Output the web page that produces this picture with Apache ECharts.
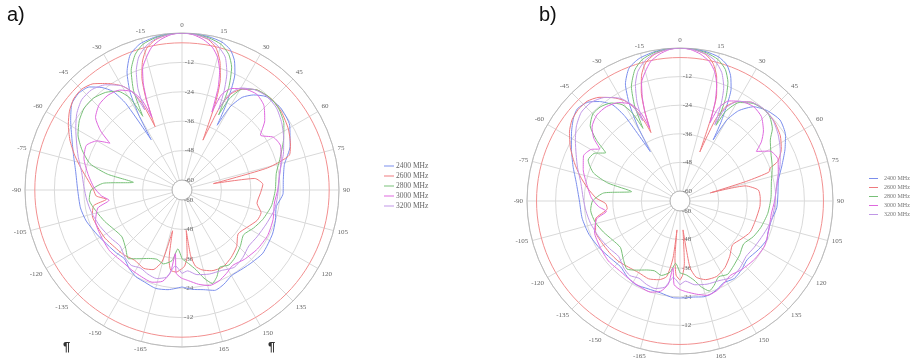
<!DOCTYPE html>
<html>
<head>
<meta charset="utf-8">
<script src="https://cdn.jsdelivr.net/npm/echarts@6/dist/echarts.min.js"></script>
<style>
  html, body { margin: 0; padding: 0; background: #fff; }
  #chart { width: 917px; height: 360px; }
</style>
</head>
<body>
<div id="chart"></div>
<script>
// legend names
const freqs = ["2400 MHz", "2600 MHz", "2800 MHz", "3000 MHz", "3200 MHz"];
const colors = ["#7b8eec", "#ef7a7e", "#78c078", "#de68de", "#c097e6"];
// red reference ring level (dB)
const refLevel = -4;

// plot a) : [angle deg, gain dB]
const blueA = [[-180,-24.5],[-172,-23],[-165,-22.5],[-158,-23.5],[-152,-24],[-146,-25.5],[-140,-27.5],[-134,-27],[-128,-26.5],[-118,-25],[-108,-23],[-100,-22],[-90,-21.5],[-80,-20],[-72,-17.5],[-65,-14.5],[-58,-10.5],[-52,-7],[-47,-6.3],[-42,-7.5],[-38,-11],[-35,-15],[-33,-22],[-31.5,-40],[-30,-29],[-28,-19],[-25,-11],[-21,-5],[-16,-2],[-10,-0.7],[-5,-0.2],[0,0],[5,-0.2],[10,-0.6],[15,-1.5],[19,-3.5],[22,-7],[24.5,-12],[26,-18],[27.5,-26],[28.5,-34],[30,-25],[33,-19],[37,-15.5],[42,-12.8],[50,-11.7],[59,-12.8],[68,-16.5],[76,-21],[84,-22.5],[92,-22.8],[100,-25],[108,-24],[116,-23],[128,-22.2],[136,-23],[142,-23.5],[150,-23.7],[156,-22],[162,-21],[168,-22.5],[174,-23.3],[180,-24.5]];
const redA = [[-180,-32],[-176,-30.5],[-172,-31],[-169.5,-35],[-167,-47],[-164.5,-34],[-160,-29.5],[-154,-28.5],[-146,-29.5],[-138,-28.5],[-130,-28],[-122,-27],[-114,-26.5],[-106,-26],[-100,-27.5],[-97,-33],[-94,-29],[-90,-28],[-84,-25.5],[-78,-22],[-72,-18],[-66,-14],[-60,-10.5],[-55,-8],[-50,-6.3],[-45,-6],[-40,-7.5],[-35,-11],[-30,-15],[-27,-19],[-24.5,-26],[-23,-36],[-21.5,-24],[-19.5,-15],[-17,-9],[-14,-4.5],[-10,-1.8],[-5,-0.4],[0,0],[5,-0.4],[10,-1.8],[13.5,-4.5],[16.5,-9.5],[19,-16],[21,-26],[22.8,-42],[24.5,-27],[27,-20],[31,-16],[37,-13],[45,-12],[52,-12.5],[60,-14],[67,-16],[72,-18],[75.5,-28],[78.5,-51],[81,-34],[86,-31],[92,-32],[100,-33],[106,-30.5],[112,-31],[120,-33.5],[128,-35],[136,-32],[144,-30],[152,-28.5],[160,-29],[166,-30.5],[170,-32.5],[172.5,-37],[174,-47.5],[175.5,-37],[178,-33],[180,-32]];
const greenA = [[-180,-36],[-176,-40],[-172,-35],[-166,-33],[-160,-34],[-154,-33],[-148,-31],[-142,-28.5],[-136,-31],[-128,-33],[-120,-32],[-112,-30],[-104,-28],[-96,-26],[-90,-27],[-85,-32],[-81,-44],[-78,-33],[-74,-25],[-68,-20],[-62,-16],[-56,-13.5],[-50,-12],[-44,-12],[-38,-13.5],[-33,-16],[-29.5,-21],[-28,-30],[-26,-19],[-23,-11],[-19,-5.5],[-15,-2.5],[-10,-1],[-5,-0.3],[0,0],[5,-0.3],[10,-1],[15,-2.5],[19,-5.5],[22,-10],[24.5,-18],[26,-30],[27.5,-22],[31,-16],[37,-13],[44,-12],[50,-12.5],[57,-14.5],[64,-18],[72,-22],[80,-25],[90,-26],[100,-27],[110,-29],[118,-31],[126,-33],[134,-31],[142,-29],[148,-28],[154,-29],[158,-26],[162,-24],[166,-27],[170,-31],[175,-34],[180,-36]];
const magentaA = [[-180,-28],[-176,-30],[-174,-38],[-172,-30],[-168,-26],[-162,-24.5],[-155,-25],[-148,-25.5],[-140,-26],[-130,-25.5],[-120,-26],[-110,-26.5],[-102,-29],[-98,-34],[-94,-31],[-88,-28],[-80,-25],[-72,-22],[-65,-21],[-60,-24],[-57,-29],[-54,-23],[-50,-18],[-44,-15.5],[-38,-15],[-32,-16],[-27,-19],[-24,-24],[-22.5,-32],[-21.5,-25],[-20,-18],[-18,-12],[-15,-8],[-12,-4.5],[-8,-2],[-4,-0.5],[0,0],[4,-0.5],[8,-2],[12,-4.5],[15,-8],[17.5,-13],[19.5,-20],[21,-30],[22.5,-22],[26,-18],[32,-15.5],[38,-14.5],[44,-16],[50,-20],[55,-25],[60,-21],[66,-20],[74,-22],[82,-24],[90,-25],[98,-26],[108,-25],[118,-24.5],[128,-25],[138,-26],[146,-27],[152,-25.5],[158,-24],[164,-23.5],[170,-25],[176,-27],[180,-28]];
const purpleA = [[-180,-30],[-175,-33],[-170,-28],[-164,-26.5],[-158,-27],[-152,-28],[-146,-27],[-140,-28],[-132,-30],[-124,-29],[-114,-27.5],[-104,-26],[-96,-25],[-88,-24],[-80,-22.5],[-72,-19.5],[-66,-17],[-60,-14],[-54,-11],[-48,-9],[-42,-9],[-36,-11],[-30,-15],[-26.5,-20],[-25,-28],[-23.5,-19],[-21,-12],[-18,-7],[-14,-3.5],[-10,-1.5],[-5,-0.4],[0,0],[5,-0.4],[10,-1.5],[14,-3.5],[18,-7],[21,-13],[23,-20],[24.5,-28],[26,-21],[30,-16],[36,-13.5],[42,-12.5],[49,-13],[56,-15],[63,-17.5],[70,-20],[78,-23],[86,-24.5],[94,-25],[102,-25.5],[112,-27],[122,-28],[130,-28.5],[138,-27],[146,-26],[154,-27.5],[162,-28],[170,-29],[176,-31],[180,-30]];

// plot b)
const blueB = [[-180,-23.5],[-176,-23.5],[-168,-24.8],[-160,-25],[-152,-24.5],[-145,-25.5],[-138,-27],[-130,-26.5],[-120,-25],[-110,-23.5],[-100,-22.5],[-90,-22],[-80,-20],[-72,-17],[-64,-13.5],[-58,-10.5],[-52,-7.5],[-48,-6.3],[-43,-7.5],[-39,-10.5],[-35,-15],[-33,-22],[-31,-40],[-29.5,-28],[-27.5,-18],[-25,-10],[-21,-4.5],[-16,-2],[-10,-0.7],[-5,-0.2],[0,0],[5,-0.2],[10,-0.6],[15,-1.6],[19,-3.8],[22,-7.5],[24.5,-12.5],[26,-19],[27.5,-27],[28.5,-35],[30,-25],[33,-19],[38,-14],[44,-11.5],[51,-10.2],[58,-12],[64,-15.2],[71,-19],[78,-22],[86,-23],[94,-23.5],[102,-25],[110,-25],[114,-24.3],[122,-25.5],[131,-26.8],[138,-25.5],[145,-24.5],[152,-25.3],[157,-24],[162,-23],[166,-22.8],[172,-23.5],[176,-23.5],[180,-23.5]];
const redB = [[-180,-31],[-177,-33],[-175,-40],[-174,-52],[-173,-40],[-170,-32],[-165,-30],[-158,-29],[-150,-29.5],[-142,-29],[-134,-28],[-126,-27.5],[-118,-27],[-110,-26.5],[-102,-28],[-96,-33.5],[-92,-33],[-88,-29],[-82,-25],[-76,-21],[-70,-17],[-64,-13],[-58,-9.5],[-53,-7.5],[-48,-6.8],[-43,-7],[-38,-9],[-33,-12.5],[-29,-16],[-26,-21],[-24,-28],[-23,-33],[-21.5,-24],[-19.5,-15.5],[-17,-9],[-14,-4.5],[-10,-1.8],[-5,-0.4],[0,0],[5,-0.4],[10,-1.8],[13.5,-4.8],[16.5,-10],[19,-17],[20.5,-27],[22,-42],[23.5,-27],[26,-20],[30,-16],[36,-13],[43,-12],[50,-12.5],[57,-14],[63,-16.5],[68,-20],[70,-24],[72,-25],[73.5,-35],[75,-51],[77,-36],[82,-31],[88,-30.5],[94,-30.6],[104,-31.5],[114,-32],[122,-34],[130,-35.5],[138,-33],[146,-30.5],[154,-29],[162,-29.5],[168,-31.5],[171.5,-36],[174,-52],[176,-38],[178,-33],[180,-31]];
const greenB = [[-180,-34],[-176,-38],[-172,-34],[-166,-32],[-160,-33],[-154,-32],[-148,-30],[-142,-28],[-136,-30],[-128,-32.5],[-120,-31.5],[-112,-29.5],[-104,-27.5],[-96,-26.5],[-90,-27.5],[-84,-32],[-79,-43.5],[-76,-33],[-72,-26],[-66,-22],[-61,-23],[-57,-27],[-54,-21],[-50,-15],[-45,-12.5],[-40,-12.5],[-35,-14],[-31,-17],[-28.5,-22],[-27,-30],[-25.5,-20],[-23,-12],[-19,-6],[-15,-2.8],[-10,-1],[-5,-0.3],[0,0],[5,-0.3],[10,-1],[15,-2.7],[19,-5.8],[22,-10.5],[24,-17],[25.5,-29],[27,-22],[31,-16],[37,-13],[43,-12],[47,-12.6],[52,-15],[56,-18.5],[62,-21],[70,-23],[78,-25],[88,-26],[98,-27],[108,-28.5],[116,-30],[124,-32],[132,-30.5],[140,-29],[147,-27.5],[153,-28.5],[158,-26],[162,-24.5],[166,-27],[170,-30.5],[175,-33],[180,-34]];
const magentaB = [[-180,-27],[-176,-29],[-174,-36],[-172,-29],[-168,-25.5],[-162,-24],[-155,-24.5],[-148,-25],[-140,-25.5],[-130,-25],[-120,-25.5],[-110,-26],[-102,-28.5],[-98,-33],[-94,-30],[-88,-27],[-80,-24.5],[-72,-21.5],[-65,-19.5],[-60,-21],[-57,-24],[-54,-19.5],[-50,-16],[-44,-14],[-38,-14],[-32,-15.5],[-27,-18.5],[-24,-23.5],[-22.5,-31],[-21.5,-24],[-20,-18],[-18,-12],[-15,-8],[-12,-4.5],[-8,-2],[-4,-0.5],[0,0],[4,-0.5],[8,-2],[12,-4.5],[15,-8],[17.5,-13],[19.5,-20],[21,-29],[22.5,-22],[26,-17.5],[32,-15],[38,-14],[44,-15],[50,-18.5],[54,-22],[57,-26],[61,-21],[67,-19.5],[75,-21.5],[83,-23.5],[90,-24.5],[98,-25.5],[108,-25],[118,-24],[128,-24.5],[138,-25.5],[146,-26.5],[152,-25],[158,-23.5],[164,-23],[170,-24.5],[176,-26],[180,-27]];
const purpleB = [[-180,-29],[-175,-32],[-170,-27.5],[-164,-26],[-158,-26.5],[-152,-27.5],[-146,-26.5],[-140,-27.5],[-132,-29.5],[-124,-28.5],[-114,-27],[-104,-25.5],[-96,-24.5],[-88,-23.5],[-80,-22],[-72,-19],[-66,-16.5],[-60,-13.5],[-54,-10.5],[-48,-8.5],[-42,-8.5],[-36,-10.5],[-30,-14.5],[-26.5,-19.5],[-25,-27],[-23.5,-19],[-21,-12],[-18,-7],[-14,-3.5],[-10,-1.5],[-5,-0.4],[0,0],[5,-0.4],[10,-1.5],[14,-3.5],[18,-7.5],[21,-13],[23,-20],[24.5,-29],[26,-21],[30,-16],[36,-13],[42,-12],[49,-12.5],[56,-14.5],[63,-17],[70,-19.5],[78,-22.5],[86,-24],[94,-24.5],[102,-25],[112,-26.5],[122,-27.5],[130,-28],[138,-26.5],[146,-25.5],[154,-27],[162,-27.5],[170,-28.5],[176,-30.5],[180,-29]];

const seriesA = [blueA, redA, greenA, magentaA, purpleA];
const seriesB = [blueB, redB, greenB, magentaB, purpleB];

const chart = echarts.init(document.getElementById("chart"));

const labelFont = "Liberation Serif";
const gridColor = "#d9d9d9";

// 两个极坐标：一个画数据（半径轴朝下），一个只画朝上的半径刻度
function polarAxes(polarIndex, withGrid) {
  const angleAxis = {
    polarIndex,
    type: "value",
    min: -180,
    max: 180,
    interval: 15,
    startAngle: withGrid ? 270 : 90,
    clockwise: true,
    show: true,
    axisLine: { show: withGrid, lineStyle: { color: "#bbbbbb", width: 1 } },
    axisTick: { show: false },
    axisLabel: {
      show: withGrid,
      margin: 4,
      fontSize: 7,
      fontFamily: labelFont,
      color: "#666",
      formatter: (v) => (v === -180 ? "" : String(v)),
    },
    splitLine: { show: withGrid, lineStyle: { color: gridColor, width: 1 } },
  };
  const radiusAxis = {
    polarIndex,
    type: "value",
    min: -60,
    max: 0,
    interval: 12,
    axisLine: { show: false },
    axisTick: { show: false },
    axisLabel: {
      show: true,
      showMaxLabel: false,
      margin: withGrid ? 2 : -12,
      fontSize: 7,
      fontFamily: labelFont,
      color: "#666",
    },
    splitLine: { show: withGrid, lineStyle: { color: gridColor, width: 1 } },
  };
  return { angleAxis, radiusAxis };
}

const polars = [
  { center: [182, 190], radius: [10, 157] },
  { center: [182, 190], radius: [10, 157] },
  { center: [680, 201], radius: [10, 153] },
  { center: [680, 201], radius: [10, 153] },
];
const axes = [polarAxes(0, true), polarAxes(1, false), polarAxes(2, true), polarAxes(3, false)];

const ringAngles = [];
for (let a = -180; a <= 180; a += 3) ringAngles.push(a);

function curve(name, color, pts, polarIndex) {
  return {
    name,
    type: "line",
    coordinateSystem: "polar",
    polarIndex,
    data: pts.map((p) => [p[1], p[0]]),
    symbol: "none",
    showSymbol: false,
    smooth: 0.2,
    lineStyle: { width: 1, color },
    itemStyle: { color },
    silent: true,
    z: 3,
  };
}

function ring(polarIndex) {
  return {
    type: "line",
    coordinateSystem: "polar",
    polarIndex,
    data: ringAngles.map((a) => [refLevel, a]),
    symbol: "none",
    lineStyle: { width: 1, color: "#f29090" },
    silent: true,
    z: 2,
  };
}

const series = [ring(0), ring(2)];
seriesA.forEach((pts, i) => series.push(curve(freqs[i], colors[i], pts, 0)));
seriesB.forEach((pts, i) => series.push(curve(freqs[i], colors[i], pts, 2)));

const options = {
  animation: false,
  polar: polars,
  angleAxis: axes.map((a) => a.angleAxis),
  radiusAxis: axes.map((a) => a.radiusAxis),
  legend: [
    {
      left: 379,
      top: 157,
      orient: "vertical",
      data: freqs,
      icon: "rect",
      itemWidth: 10,
      itemHeight: 1,
      itemGap: 2,
      selectedMode: false,
      textStyle: { fontSize: 7.5, lineHeight: 8, fontFamily: labelFont, color: "#666", padding: [0, 0, 0, -3] },
    },
    {
      left: 864,
      top: 170,
      orient: "vertical",
      data: freqs,
      icon: "rect",
      itemWidth: 9,
      itemHeight: 1,
      itemGap: 2,
      selectedMode: false,
      textStyle: { fontSize: 6, lineHeight: 7, fontFamily: labelFont, color: "#777", padding: [0, 0, 0, 1] },
    },
  ],
  graphic: [
    { type: "text", left: 7, top: 5, style: { text: "a)", fontSize: 20, fontFamily: "Liberation Sans", fill: "#111" } },
    { type: "text", left: 539, top: 5, style: { text: "b)", fontSize: 20, fontFamily: "Liberation Sans", fill: "#111" } },
    { type: "text", left: 63, top: 341, style: { text: "¶", fontSize: 13, fontWeight: "bold", fontFamily: "Liberation Sans", fill: "#333" } },
    { type: "text", left: 268, top: 341, style: { text: "¶", fontSize: 13, fontWeight: "bold", fontFamily: "Liberation Sans", fill: "#333" } },
  ],
  series,
};

chart.setOption(options);

window.addEventListener("resize", () => {
  chart.resize();
});
</script>
</body>
</html>
